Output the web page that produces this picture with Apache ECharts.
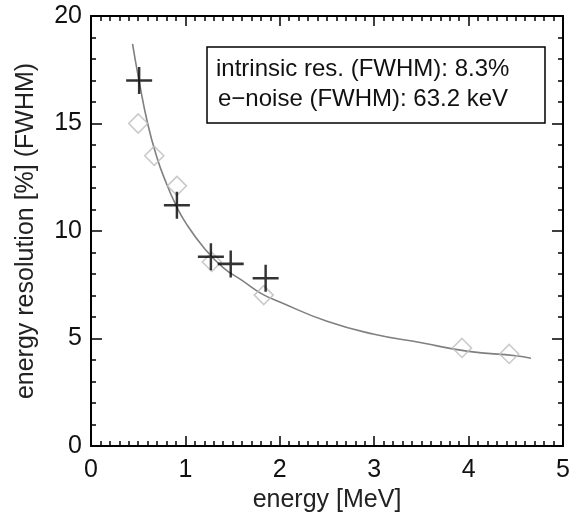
<!DOCTYPE html>
<html>
<head>
<meta charset="utf-8">
<script src="https://cdn.jsdelivr.net/npm/echarts@6/dist/echarts.min.js"></script>
<style>
html,body{margin:0;padding:0;background:#fff;}
#chart{width:575px;height:518px;}
</style>
</head>
<body>
<div id="chart"></div>
<script>
// measured points: energy [MeV], resolution [%]
const crossEnergy = [0.51, 0.91, 1.27, 1.48, 1.85];
const crossRes    = [17.0, 11.2, 8.8, 8.47, 7.8];
const diamondEnergy = [0.50, 0.67, 0.91, 1.28, 1.83, 3.93, 4.43];
const diamondRes    = [15.0, 13.5, 12.1, 8.56, 7.02, 4.56, 4.28];
// fit curve
const curveEnergy = [0.44, 0.5, 0.6, 0.7, 0.8, 0.9, 1.0, 1.2, 1.4, 1.6, 1.8, 2.0, 2.5, 3.0, 3.5, 4.0, 4.5, 4.66];
const curveRes    = [18.7, 17.2, 15.0, 13.4, 12.2, 11.2, 10.4, 9.2, 8.3, 7.7, 7.1, 6.7, 5.8, 5.2, 4.8, 4.4, 4.2, 4.08];
const xTicks = [0, 1, 2, 3, 4, 5];
const yTicks = [0, 5, 10, 15, 20];
const boxLines = ['intrinsic res. (FWHM): 8.3%', 'e\u2212noise (FWHM): 63.2 keV'];
const xTitle = 'energy [MeV]';
const yTitle = 'energy resolution [%] (FWHM)';

const FONT = 'Liberation Sans, Arial, Helvetica, sans-serif';
const chart = echarts.init(document.getElementById('chart'), null, {renderer: 'canvas'});

function zipPts(xs, ys) { return xs.map((x, i) => [x, ys[i]]); }

const axisLine = {show: true, onZero: false, lineStyle: {color: '#000', width: 2}};
function xAx(pos, labels) {
  return {
    type: 'value', position: pos, min: xTicks[0], max: xTicks[xTicks.length - 1], interval: 1,
    axisLine: axisLine,
    axisTick: {show: true, inside: true, length: 10, lineStyle: {color: '#000', width: 1.5}},
    minorTick: {show: true, splitNumber: 10, length: 5, lineStyle: {color: '#000', width: 1.5}},
    splitLine: {show: false}, minorSplitLine: {show: false},
    axisLabel: {show: labels, color: '#111', fontFamily: FONT, fontSize: 25, margin: 12},
    name: labels ? xTitle : '', nameLocation: 'middle', nameGap: 34,
    nameTextStyle: {color: '#222', fontFamily: FONT, fontSize: 25}
  };
}
function yAx(pos, labels) {
  return {
    type: 'value', position: pos, min: yTicks[0], max: yTicks[yTicks.length - 1], interval: 5,
    axisLine: axisLine,
    axisTick: {show: true, inside: true, length: 11, lineStyle: {color: '#000', width: 1.5}},
    minorTick: {show: true, splitNumber: 5, length: 5, lineStyle: {color: '#000', width: 1.5}},
    splitLine: {show: false}, minorSplitLine: {show: false},
    axisLabel: {show: labels, color: '#111', fontFamily: FONT, fontSize: 25, margin: 9},
    name: labels ? yTitle : '', nameLocation: 'middle', nameGap: 52,
    nameTextStyle: {color: '#222', fontFamily: FONT, fontSize: 25}
  };
}

chart.setOption({
  animation: false,
  backgroundColor: '#fff',
  grid: {left: 91, right: 12, top: 16, bottom: 72, containLabel: false},
  xAxis: [xAx('bottom', true), xAx('top', false)],
  yAxis: [yAx('left', true), yAx('right', false)],
  series: [
    {
      type: 'line', data: zipPts(curveEnergy, curveRes), smooth: true, showSymbol: false,
      lineStyle: {color: '#808080', width: 1.6}, z: 2
    },
    {
      type: 'scatter', data: zipPts(diamondEnergy, diamondRes), symbol: 'diamond', symbolSize: [19, 19],
      itemStyle: {color: 'rgba(255,255,255,0)', borderColor: '#bdbdbd', borderWidth: 1.6}, z: 3
    },
    {
      type: 'scatter', data: zipPts(crossEnergy, crossRes),
      symbol: 'path://M0,13L26,13M13,0L13,26', symbolSize: [26, 27],
      itemStyle: {color: 'rgba(0,0,0,0)', borderColor: '#000', borderWidth: 2.5}, z: 4
    }
  ],
  graphic: [
    {type: 'rect', shape: {x: 207, y: 47, width: 338, height: 76},
     style: {fill: '#fff', stroke: '#000', lineWidth: 1.5}, z: 10},
    {type: 'text', x: 216, y: 69, style: {text: boxLines[0], font: '24px ' + FONT, fill: '#111', textVerticalAlign: 'middle'}, z: 11},
    {type: 'text', x: 218, y: 99, style: {text: boxLines[1], font: '24px ' + FONT, fill: '#111', textVerticalAlign: 'middle'}, z: 11}
  ]
});
</script>
</body>
</html>
